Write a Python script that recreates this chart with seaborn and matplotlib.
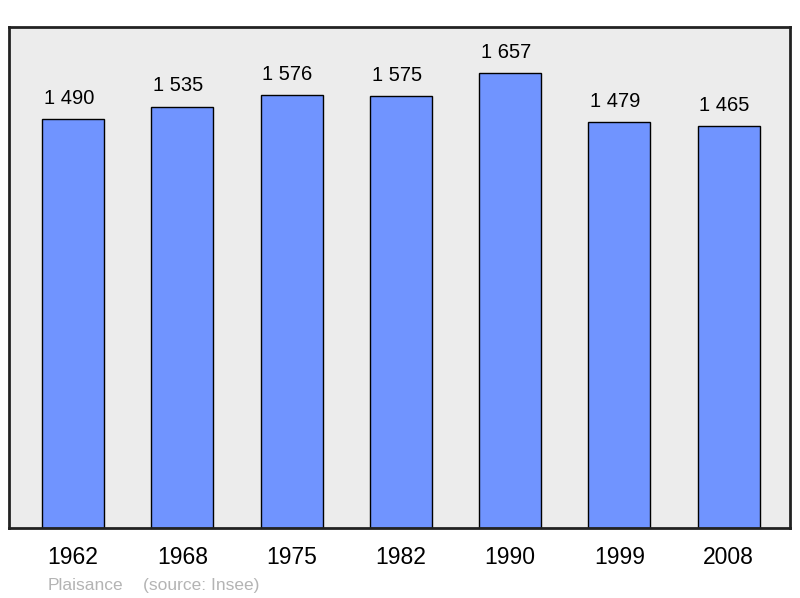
import pandas as pd
import seaborn as sns
import matplotlib.pyplot as plt

years = ["1962", "1968", "1975", "1982", "1990", "1999", "2008"]
population = [1490, 1535, 1576, 1575, 1657, 1479, 1465]
value_labels = ["1 490", "1 535", "1 576", "1 575", "1 657", "1 479", "1 465"]
commune = "Plaisance"
source = "(source: Insee)"

def main():
    df = pd.DataFrame({"year": years, "population": population})

    sns.set_style("white")
    plt.rcParams['font.family'] = ['Liberation Sans', 'DejaVu Sans']

    fig = plt.figure(figsize=(8, 5.98), dpi=100)
    ax = fig.add_axes([9 / 800, 70 / 598, 781 / 800, 501 / 598])
    ax.set_facecolor('#ececec')

    sns.barplot(
        data=df, x="year", y="population", ax=ax,
        color='#7094ff', saturation=1, width=0.567,
        edgecolor='black', linewidth=1)

    ax.set_ylim(0, 1825)
    ax.set_xlim(-0.585, 6.56)
    ax.set_yticks([])
    ax.set_xlabel('')
    ax.set_ylabel('')
    ax.tick_params(axis='x', length=0, labelsize=16.5, pad=13, labelcolor='black')
    for s in ax.spines.values():
        s.set_linewidth(2)
        s.set_color('#222222')

    for i, (v, lab) in enumerate(zip(population, value_labels)):
        ax.annotate(lab, (i, v), xytext=(-3, 8), textcoords='offset points',
                    ha='center', va='bottom', fontsize=14.5, color='black')

    fig.text(48 / 800, 1 - 590 / 598, commune, fontsize=12.5, color='#b4b4b4',
             va='baseline', ha='left')
    fig.text(143 / 800, 1 - 590 / 598, source, fontsize=12.5, color='#b4b4b4',
             va='baseline', ha='left')

    fig.savefig('out.png', dpi=100)

main()
